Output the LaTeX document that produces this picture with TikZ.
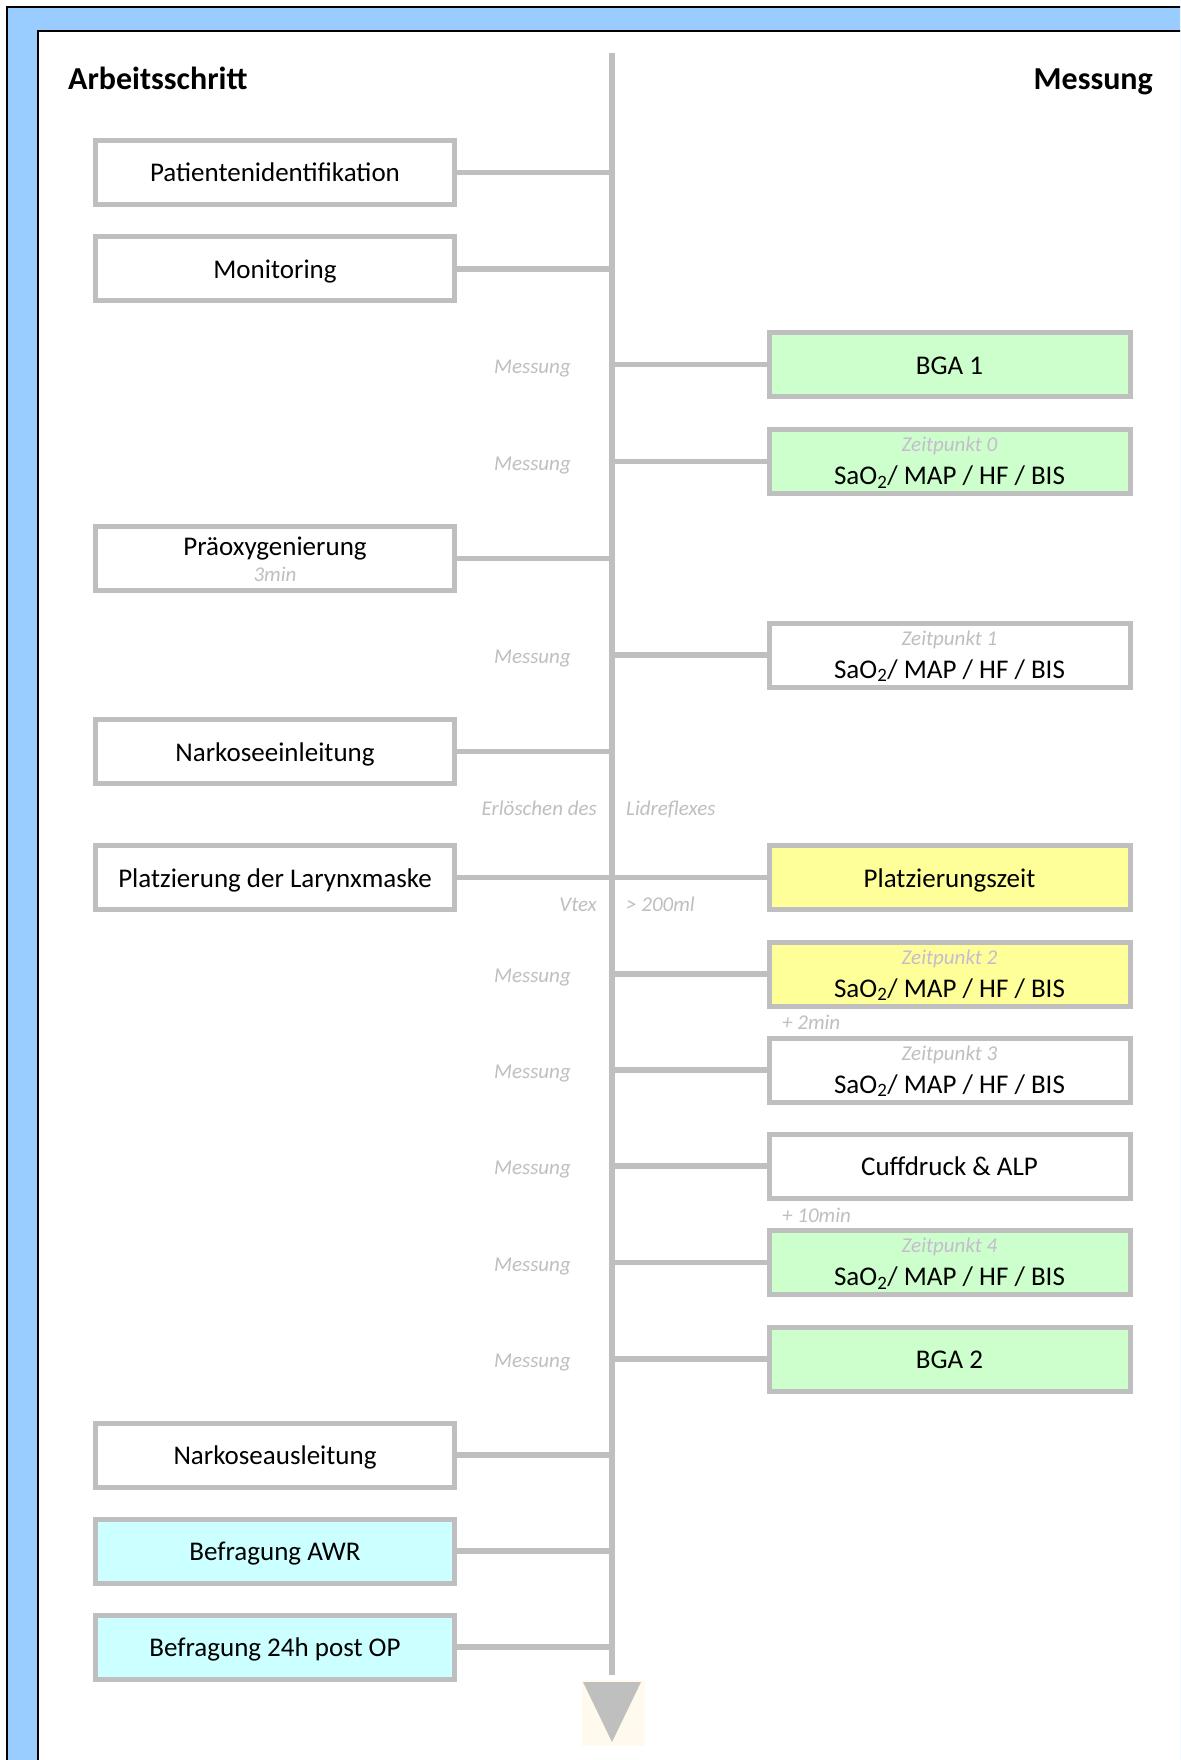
\documentclass[tikz,border=0pt]{standalone}
\usepackage{fontspec}
\setmainfont{Carlito}
\definecolor{gry}{HTML}{BFBFBF}
\definecolor{frameblue}{HTML}{99CCFF}
\definecolor{boxgreen}{HTML}{CCFFCC}
\definecolor{boxyellow}{HTML}{FFFF99}
\definecolor{boxcyan}{HTML}{CCFFFF}
\definecolor{zcol}{HTML}{C6BCCF}
\definecolor{cream}{HTML}{FFF9EE}
\newcommand{\fmain}{\fontsize{27}{32}\selectfont}
\newcommand{\fsmall}{\fontsize{21}{25}\selectfont\itshape}
\newcommand{\fhead}{\fontsize{32}{37}\selectfont\bfseries}
\newcommand{\sao}{SaO\textsubscript{2}/ MAP / HF / BIS}
\begin{document}
\begin{tikzpicture}[x=1pt,y=-1pt,
  stepbox/.style={draw=gry, line width=5pt, minimum width=359pt, minimum height=64pt, inner sep=0pt},
  mbox/.style={stepbox, minimum width=361pt},
  maintext/.style={inner sep=0pt, anchor=base, font=\fmain},
  subtext/.style={inner sep=0pt, anchor=base, font=\fsmall, text=gry},
  ztext/.style={inner sep=0pt, anchor=base, font=\fsmall, text=zcol},
  lbl/.style={inner sep=0pt, anchor=base east, font=\fsmall, text=gry},
  lblr/.style={inner sep=0pt, anchor=base west, font=\fsmall, text=gry},
  conn/.style={draw=gry, line width=5.5pt},
  head/.style={inner sep=0pt, font=\fhead}]
\useasboundingbox (0,0) rectangle (1180,1760);
\begin{scope}
  \clip (0,0) rectangle (1180,1760);
  \draw[line width=2pt, fill=frameblue] (7,7) rectangle (1200,1790);
  \draw[line width=2pt, fill=white] (38,31) rectangle (1200,1790);
\end{scope}

% headings
\node[head, anchor=base west] (hl) at (68,90) {Arbeitsschritt};
\node[head, anchor=base east] (hr) at (1153,90) {Messung};

% spine
\coordinate (top) at (612,53);
\coordinate (bot) at (612,1675);
\draw[conn] (top) -- (bot);

% arrow
\node[fill=cream, minimum width=63pt, minimum height=66pt, inner sep=0pt] (arrbg) at (613.5,1713) {};
\coordinate (ta) at (583,1682);
\coordinate (tb) at (641,1682);
\coordinate (tc) at (612,1742);
\fill[gry] (ta) -- (tb) -- (tc) -- cycle;

% left boxes
\node[stepbox] (pat) at (275,172.5) {};
\node[maintext] (patt) at ([yshift=-9.5pt]pat.center) {Patientenidentifikation};
\node[stepbox] (mon) at (275,269) {};
\node[maintext] (mont) at ([yshift=-9.5pt]mon.center) {Monitoring};
\node[stepbox] (pre) at (275,558.5) {};
\node[maintext] (pret) at ([yshift=3.5pt]pre.center) {Präoxygenierung};
\node[subtext] (pres) at ([yshift=-23pt]pre.center) {3min};
\node[stepbox] (nar) at (275,751.5) {};
\node[maintext] (nart) at ([yshift=-9.5pt]nar.center) {Narkoseeinleitung};
\node[stepbox] (plat) at (275,877.5) {};
\node[maintext] (platt) at ([yshift=-9.5pt]plat.center) {Platzierung der Larynxmaske};
\node[stepbox] (aus) at (275,1455) {};
\node[maintext] (aust) at ([yshift=-9.5pt]aus.center) {Narkoseausleitung};
\node[stepbox, fill=boxcyan] (awr) at (275,1551) {};
\node[maintext] (awrt) at ([yshift=-9.5pt]awr.center) {Befragung AWR};
\node[stepbox, fill=boxcyan] (p24) at (275,1647) {};
\node[maintext] (p24t) at ([yshift=-9.5pt]p24.center) {Befragung 24h post OP};

% right boxes
\node[mbox, fill=boxgreen] (bga1) at (949.5,364.5) {};
\node[maintext] (bga1t) at ([yshift=-9.5pt]bga1.center) {BGA 1};
\node[mbox, fill=boxgreen] (z0) at (949.5,461.5) {};
\node[ztext] (z0a) at ([yshift=10pt]z0.center) {Zeitpunkt 0};
\node[maintext] (z0b) at ([yshift=-23pt]z0.center) {\sao};
\node[mbox] (z1) at (949.5,655) {};
\node[subtext] (z1a) at ([yshift=10pt]z1.center) {Zeitpunkt 1};
\node[maintext] (z1b) at ([yshift=-23pt]z1.center) {\sao};
\node[mbox, fill=boxyellow] (pz) at (949.5,877.5) {};
\node[maintext] (pzt) at ([yshift=-9.5pt]pz.center) {Platzierungszeit};
\node[mbox, fill=boxyellow] (z2) at (949.5,974) {};
\node[ztext] (z2a) at ([yshift=10pt]z2.center) {Zeitpunkt 2};
\node[maintext] (z2b) at ([yshift=-23pt]z2.center) {\sao};
\node[mbox] (z3) at (949.5,1070) {};
\node[subtext] (z3a) at ([yshift=10pt]z3.center) {Zeitpunkt 3};
\node[maintext] (z3b) at ([yshift=-23pt]z3.center) {\sao};
\node[mbox] (cuff) at (949.5,1166) {};
\node[maintext] (cufft) at ([yshift=-9.5pt]cuff.center) {Cuffdruck \& ALP};
\node[mbox, fill=boxgreen] (z4) at (949.5,1262.5) {};
\node[ztext] (z4a) at ([yshift=10pt]z4.center) {Zeitpunkt 4};
\node[maintext] (z4b) at ([yshift=-23pt]z4.center) {\sao};
\node[mbox, fill=boxgreen] (bga2) at (949.5,1359) {};
\node[maintext] (bga2t) at ([yshift=-9.5pt]bga2.center) {BGA 2};

% time offsets
\node[subtext, anchor=base west] (p2) at (782,1029) {+ 2min};
\node[subtext, anchor=base west] (p10) at (782,1222) {+ 10min};

% connectors left
\foreach \b in {pat,mon,pre,nar,aus,awr,p24}
  \draw[conn] (\b.east) -- (\b.east -| top);
\draw[conn] (plat.east) -- (pz.west);
% connectors right
\foreach \b in {bga1,z0,z1,z2,z3,cuff,z4,bga2}
  \draw[conn] (\b.west -| top) -- (\b.west);

% Messung labels
\foreach \b in {bga1,z0,z1,z2,z3,cuff,z4,bga2}
  \node[lbl] (m\b) at ([yshift=-8.5pt]\b.west -| 571,0) {Messung};

\node[lbl] (erl) at (597,815) {Erlöschen des};
\node[lblr] (lid) at (626,815) {Lidreflexes};
\node[lbl] (vtex) at (597,911) {Vtex};
\node[lblr] (ml) at (626,911) {> 200ml};
\end{tikzpicture}
\end{document}
